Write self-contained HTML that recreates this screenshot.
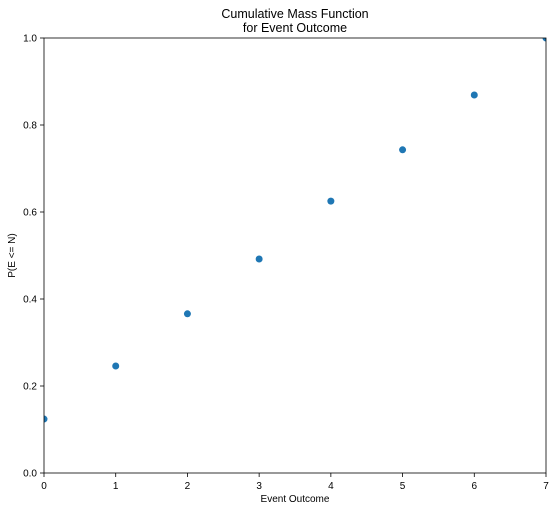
<!DOCTYPE html>
<html><head><meta charset="utf-8"><style>
html,body{margin:0;padding:0;background:#fff;}
svg{display:block;font-family:"Liberation Sans","DejaVu Sans",sans-serif;}
</style></head><body>
<svg id="chart" width="556" height="511"></svg>
<script>
const categories = [0,1,2,3,4,5,6,7];
const values = [0.124,0.246,0.366,0.492,0.625,0.743,0.869,1.0];
const xTicks = [0,1,2,3,4,5,6,7];
const yTicks = [0.0,0.2,0.4,0.6,0.8,1.0];

const L=44,R=546,T=38,B=473;
const sx=v=>L+(v-0)/(7-0)*(R-L);
const sy=v=>B-(v-0)/(1-0)*(B-T);
const NS="http://www.w3.org/2000/svg";
const svg=document.getElementById('chart');
function mk(tag,attrs,parent){const e=document.createElementNS(NS,tag);for(const k in attrs)e.setAttribute(k,attrs[k]);(parent||svg).appendChild(e);return e;}

const title=mk('text',{x:(L+R)/2,y:18,'text-anchor':'middle','font-size':12.5,fill:'#000'});


const t1=mk('tspan',{x:(L+R)/2,dy:0},title);t1.textContent='Cumulative Mass Function';
const t2=mk('tspan',{x:(L+R)/2,dy:14},title);t2.textContent='for Event Outcome';

xTicks.forEach(v=>{
  const g=mk('g',{});
  
  
  mk('line',{x1:sx(v),x2:sx(v),y1:B,y2:B+4,stroke:'#000','stroke-width':0.8},g);
  const t=mk('text',{x:sx(v),y:B+16,'text-anchor':'middle','font-size':10,fill:'#000'},g);t.textContent=v;
});
yTicks.forEach(v=>{
  const g=mk('g',{});
  
  
  mk('line',{x1:L-4,x2:L,y1:sy(v),y2:sy(v),stroke:'#000','stroke-width':0.8},g);
  const t=mk('text',{x:L-7,y:sy(v)+3.5,'text-anchor':'end','font-size':10,fill:'#000'},g);t.textContent=v.toFixed(1);
});

const xl=mk('text',{x:(L+R)/2,y:502,'text-anchor':'middle','font-size':10,fill:'#000'});


xl.textContent='Event Outcome';
const yl=mk('text',{x:15,y:(T+B)/2,'text-anchor':'middle','font-size':10,fill:'#000',transform:'rotate(-90 15 '+((T+B)/2)+')'});


yl.textContent='P(E <= N)';

const pts=mk('g',{'clip-path':'url(#clip)'});


const defs=mk('defs',{});const cp=mk('clipPath',{id:'clip'},defs);mk('rect',{x:L,y:T,width:R-L,height:B-T},cp);
categories.forEach((c,i)=>{
  const p=mk('circle',{cx:sx(c),cy:sy(values[i]),r:3.5,fill:'#1f77b4'},pts);
  
  
});

const frame=mk('rect',{x:L,y:T,width:R-L,height:B-T,fill:'none',stroke:'#000','stroke-width':0.8});


</script>
</body></html>
